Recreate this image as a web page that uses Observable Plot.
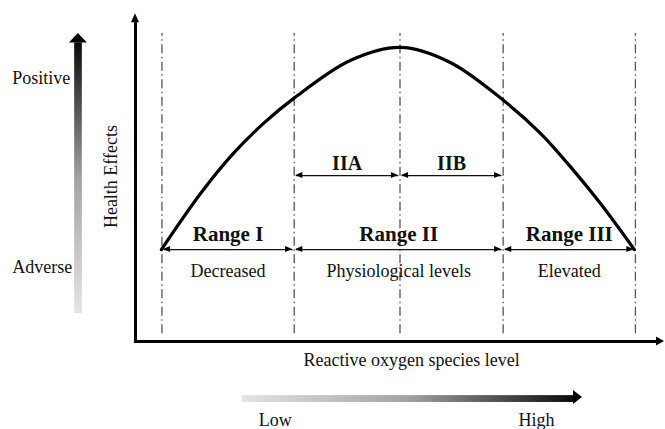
<!DOCTYPE html>
<html><head><meta charset="utf-8">
<script src="https://cdn.jsdelivr.net/npm/d3@7"></script>
<script src="https://cdn.jsdelivr.net/npm/@observablehq/plot@0.6"></script>
<style>body{margin:0;background:#fff}</style>
</head><body><div id="chart"></div>
<script>
// ---- data (ROS level 0–100 on x, health effect 0–100 on y) ----
const boundaries = [5, 30, 50, 69.5, 94.5];
const curveX = [4.9, 12.3, 18.5, 24.2, 30.1, 40.6, 50.1, 59.5, 69.6, 76.6, 82.8, 87.9, 94.3];
const curveY = [28.2, 45.4, 57.7, 66.9, 74.8, 86.2, 90.2, 85.6, 73.9, 63.8, 52.5, 42.3, 28.2];
const rangeNames = ["Range I", "Range II", "Range III"];
const rangeDesc = ["Decreased", "Physiological levels", "Elevated"];
const rangeFrom = [5, 30, 69.5];
const rangeTo = [30, 69.5, 94.5];
const subNames = ["IIA", "IIB"];
const subFrom = [30, 50];
const subTo = [50, 69.5];
const xTitle = "Reactive oxygen species level";
const yTitle = "Health Effects";
const yEnds = ["Adverse", "Positive"];
const xEnds = ["Low", "High"];

// ---- layout ----
const PX = 100 / 529, PY = 100 / 326;   // data units per pixel
const rangeY = 28.2, subY = 50.9;
const FONT = "'Liberation Serif', 'Times New Roman', serif";

const curve = curveX.map((x, i) => ({x, y: curveY[i]}));
const ranges = rangeNames.map((n, i) => ({name: n, desc: rangeDesc[i], a: rangeFrom[i], b: rangeTo[i], m: (rangeFrom[i] + rangeTo[i]) / 2}));
const subs = subNames.map((n, i) => ({name: n, a: subFrom[i], b: subTo[i], m: (subFrom[i] + subTo[i]) / 2}));

const inset = 0.3;
const spans = [
  ...ranges.map(r => ({a: r.a + inset, b: r.b - inset, y: rangeY})),
  ...subs.map(s => ({a: s.a + inset, b: s.b - inset, y: subY}))
];

// horizontal arrowheads
const hHeads = [];
spans.forEach(s => {
  hHeads.push({x: s.b, y: s.y, dir: 1, L: 7, H: 3});
  hHeads.push({x: s.a, y: s.y, dir: -1, L: 7, H: 3});
});
hHeads.push({x: 100, y: 0, dir: 1, L: 8, H: 4.5});          // x axis
hHeads.push({x: 84.5, y: -17.2, dir: 1, L: 9, H: 7});       // low→high arrow
const vHeads = [
  {x: 0, y: 100.5, L: 9, H: 4},          // y axis
  {x: -10.8, y: 94.5, L: 9.5, H: 9}      // adverse→positive arrow
];
const hRows = [];
hHeads.forEach((h, i) => {
  const base = h.x - h.dir * h.L * PX;
  [[h.H, false], [0, true], [-h.H, false]].forEach(([d, tip]) =>
    hRows.push({id: i, y: h.y + d * PY, x1: base, x2: tip ? h.x : base}));
});
const vRows = [];
vHeads.forEach((h, i) => {
  const base = h.y - h.L * PY;
  [[-h.H, false], [0, true], [h.H, false]].forEach(([d, tip]) =>
    vRows.push({id: i, x: h.x + d * PX, y1: base, y2: tip ? h.y : base}));
});

const defs = () => {
  const g = d3.create("svg:defs");
  const v = g.append("linearGradient").attr("id", "gv").attr("x1", 0).attr("y1", 1).attr("x2", 0).attr("y2", 0);
  const h = g.append("linearGradient").attr("id", "gh").attr("x1", 0).attr("y1", 0).attr("x2", 1).attr("y2", 0);
  for (const grad of [v, h]) {
    grad.append("stop").attr("offset", "0").attr("stop-color", "#e4e4e4");
    grad.append("stop").attr("offset", "0.5").attr("stop-color", "#a2a2a2");
    grad.append("stop").attr("offset", "1").attr("stop-color", "#0a0a0a");
  }
  return g.node();
};

const chart = Plot.plot({
  width: 665, height: 429,
  x: {domain: [0, 100], range: [135, 664], axis: null},
  y: {domain: [0, 100], range: [341, 15], axis: null},
  style: {fontFamily: FONT, background: "#fff"},
  marks: [
    defs,
    // gradient arrows
    Plot.rect([{x1: -11.5, x2: -10.05, y1: 8.6, y2: 91.6}], {x1: "x1", x2: "x2", y1: "y1", y2: "y2", fill: "url(#gv)"}),
    Plot.rect([{x1: 20.2, x2: 83, y1: -16.6, y2: -18.7}], {x1: "x1", x2: "x2", y1: "y1", y2: "y2", fill: "url(#gh)"}),
    // dash-dot boundary lines
    Plot.ruleX(boundaries, {y1: 2.4, y2: 94.5, stroke: "#555", strokeWidth: 1.3, strokeDasharray: "9,3.5,1.5,3.5"}),
    // axes
    Plot.link([{x1: 0, y1: 0, x2: 0, y2: 98}, {x1: -0.3, y1: 0, x2: 99, y2: 0}], {x1: "x1", y1: "y1", x2: "x2", y2: "y2", stroke: "#000", strokeWidth: 3}),
    // range arrows
    Plot.link(spans, {x1: "a", x2: "b", y1: "y", y2: "y", stroke: "#111", strokeWidth: 1.3}),
    Plot.areaX(hRows, {y: "y", x1: "x1", x2: "x2", z: "id", fill: "#000"}),
    Plot.areaY(vRows, {x: "x", y1: "y1", y2: "y2", z: "id", fill: "#000"}),
    // curve
    Plot.line(curve, {x: "x", y: "y", curve: "catmull-rom", stroke: "#000", strokeWidth: 3.2}),
    // labels
    Plot.text(ranges, {x: "m", y: 33.0, text: "name", fontSize: 21, fontWeight: "bold", fill: "#111"}),
    Plot.text(ranges, {x: "m", y: 21.5, text: "desc", fontSize: 18, fill: "#111"}),
    Plot.text(subs, {x: "m", y: 54.7, text: "name", fontSize: 20, fontWeight: "bold", fill: "#111"}),
    Plot.text([xTitle], {x: 52.2, y: -5.6, text: d => d, fontSize: 18, fill: "#111"}),
    Plot.text([yTitle], {x: -4.5, y: 50.6, text: d => d, fontSize: 18, rotate: -90, fill: "#111"}),
    Plot.text(yEnds, {x: -23.3, y: [22.9, 80.9], text: d => d, fontSize: 18, textAnchor: "start", fill: "#111"}),
    Plot.text(xEnds, {x: [23.3, 72.4], y: -24.0, text: d => d, fontSize: 18, textAnchor: "start", fill: "#111"})
  ]
});
document.getElementById("chart").append(chart);
</script>
</body></html>
